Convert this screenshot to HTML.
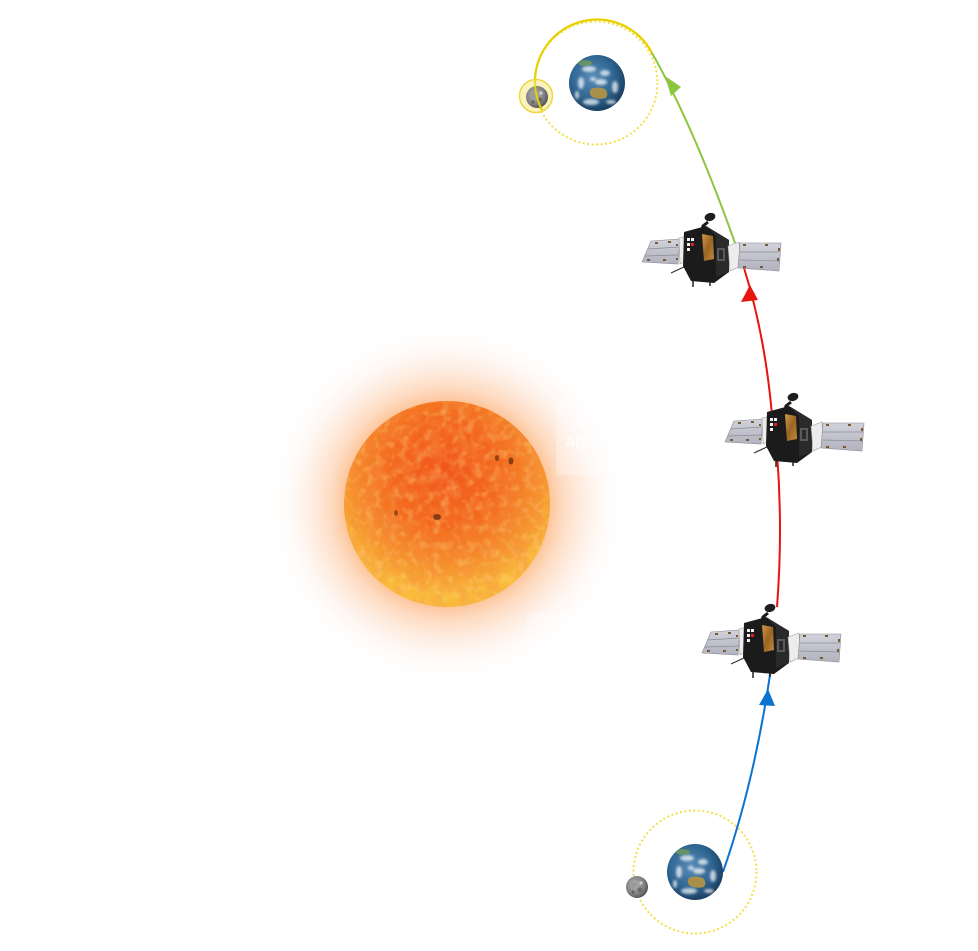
<!DOCTYPE html>
<html>
<head>
<meta charset="utf-8">
<style>
  html,body{margin:0;padding:0;background:#ffffff;}
  body{width:978px;height:951px;overflow:hidden;position:relative;font-family:"Liberation Sans",sans-serif;}
  svg{position:absolute;left:0;top:0;}
  .box{position:absolute;background:rgba(255,255,255,0.3);border-radius:4px;color:#ffffff;font-weight:bold;font-size:16px;line-height:20px;text-align:left;}
</style>
</head>
<body>
<svg width="978" height="951" viewBox="0 0 978 951" xmlns="http://www.w3.org/2000/svg">
  <defs>
    <radialGradient id="glow" cx="447" cy="504" r="180" gradientUnits="userSpaceOnUse">
      <stop offset="0.55" stop-color="#fcbf90" stop-opacity="1"/>
      <stop offset="0.64" stop-color="#fdd3b3" stop-opacity="0.85"/>
      <stop offset="0.78" stop-color="#fee7d8" stop-opacity="0.6"/>
      <stop offset="1" stop-color="#ffffff" stop-opacity="0"/>
    </radialGradient>
    <radialGradient id="sun" cx="445" cy="470" r="125" gradientUnits="userSpaceOnUse">
      <stop offset="0" stop-color="#f2561c"/>
      <stop offset="0.45" stop-color="#f36a1e"/>
      <stop offset="0.7" stop-color="#f5872a"/>
      <stop offset="0.88" stop-color="#f7a232"/>
      <stop offset="1" stop-color="#f9bb3c"/>
    </radialGradient>
    <filter id="tex" x="0" y="0" width="100%" height="100%">
      <feTurbulence type="fractalNoise" baseFrequency="0.07" numOctaves="3" seed="4"/>
      <feColorMatrix type="matrix" values="0 0 0 0 0.92  0 0 0 0 0.28  0 0 0 0 0.06  1.8 0 0 0 -0.7"/>
      <feComposite in2="SourceGraphic" operator="in"/>
    </filter>
    <filter id="tex2" x="0" y="0" width="100%" height="100%">
      <feTurbulence type="fractalNoise" baseFrequency="0.12" numOctaves="2" seed="9"/>
      <feColorMatrix type="matrix" values="0 0 0 0 1  0 0 0 0 0.78  0 0 0 0 0.3  1.8 0 0 0 -0.85"/>
      <feComposite in2="SourceGraphic" operator="in"/>
    </filter>
    <radialGradient id="earth" cx="0.42" cy="0.4" r="0.65">
      <stop offset="0" stop-color="#5a8cb8"/>
      <stop offset="0.6" stop-color="#2f6591"/>
      <stop offset="1" stop-color="#17395a"/>
    </radialGradient>
    <radialGradient id="moon" cx="0.4" cy="0.4" r="0.65">
      <stop offset="0" stop-color="#b4b4b4"/>
      <stop offset="0.7" stop-color="#7c7c7c"/>
      <stop offset="1" stop-color="#4a4a4a"/>
    </radialGradient>
    <linearGradient id="gold" x1="0" y1="0" x2="1" y2="1">
      <stop offset="0" stop-color="#d39a4a"/>
      <stop offset="0.5" stop-color="#9a6424"/>
      <stop offset="1" stop-color="#c48a3e"/>
    </linearGradient>
    <linearGradient id="panel" x1="0" y1="0" x2="0" y2="1">
      <stop offset="0" stop-color="#d2d2dc"/>
      <stop offset="1" stop-color="#b2b2c0"/>
    </linearGradient>
    <filter id="soft"><feGaussianBlur stdDeviation="1.2"/></filter>

    <g id="earthG">
      <circle cx="0" cy="0" r="28" fill="url(#earth)"/>
      <g filter="url(#soft)" fill="#ffffff" opacity="0.7">
        <ellipse cx="-8" cy="-14" rx="7" ry="3"/>
        <ellipse cx="8" cy="-10" rx="5" ry="3"/>
        <ellipse cx="-16" cy="0" rx="3" ry="6"/>
        <ellipse cx="4" cy="-1" rx="6" ry="3"/>
        <ellipse cx="18" cy="4" rx="3" ry="6"/>
        <ellipse cx="-6" cy="19" rx="8" ry="3"/>
        <ellipse cx="14" cy="19" rx="5" ry="2"/>
        <ellipse cx="-20" cy="12" rx="2" ry="4"/>
        <ellipse cx="-4" cy="-4" rx="3" ry="2"/>
      </g>
      <ellipse cx="-12" cy="-20" rx="7" ry="3" fill="#6f9a5a" opacity="0.8"/>
      <path d="M-6,6 Q0,3 8,6 Q12,10 9,15 Q2,17 -5,14 Q-9,10 -6,6Z" fill="#a8904a"/>
    </g>
    <g id="moonG">
      <circle cx="0" cy="0" r="11" fill="url(#moon)"/>
      <circle cx="-3" cy="-2" r="3" fill="#9a9a9a"/>
      <circle cx="3" cy="3" r="2.5" fill="#6a6a6a"/>
      <circle cx="4" cy="-4" r="1.8" fill="#c8c8c8"/>
      <circle cx="-4" cy="5" r="1.5" fill="#5f5f5f"/>
    </g>

    <g id="sat">
      <line x1="671" y1="273" x2="686" y2="266" stroke="#333" stroke-width="1.2"/>
      <polygon points="651,241 680,239 678,264 642,262" fill="url(#panel)" stroke="#8a8a95" stroke-width="0.6"/>
      <line x1="648" y1="249" x2="679" y2="247" stroke="#8d8d9a" stroke-width="0.7"/>
      <line x1="645" y1="256" x2="679" y2="255" stroke="#8d8d9a" stroke-width="0.7"/>
      <g fill="#7a5a2a">
        <rect x="655" y="242" width="3" height="2"/><rect x="668" y="241" width="3" height="2"/>
        <rect x="647" y="259" width="3" height="2"/><rect x="663" y="259" width="3" height="2"/>
        <rect x="676" y="244" width="2" height="2"/><rect x="676" y="258" width="2" height="2"/>
      </g>
      <polygon points="679,238 687,236 689,259 680,264" fill="#ececec" stroke="#9a9a9a" stroke-width="0.6"/>
      <polygon points="684,232 706,226 729,240 729,272 714,283 691,281 683,266" fill="#1b1b1b"/>
      <polygon points="706,226 729,240 729,272 716,277 716,236" fill="#2a2a2a"/>
      <rect x="687" y="238" width="3" height="3" fill="#f2f2f2"/>
      <rect x="691" y="238" width="3" height="3" fill="#f2f2f2"/>
      <rect x="687" y="243" width="3" height="3" fill="#f2f2f2"/>
      <rect x="691" y="243" width="3" height="3" fill="#e02020"/>
      <rect x="687" y="248" width="3" height="3" fill="#f2f2f2"/>
      <polygon points="702,234 713,236 714,259 704,261" fill="url(#gold)"/>
      <rect x="717" y="248" width="8" height="13" fill="#5a5a5a"/>
      <rect x="719" y="250" width="4" height="9" fill="#2a2a2a"/>
      <line x1="693" y1="281" x2="693" y2="287" stroke="#222" stroke-width="1.5"/>
      <line x1="710" y1="282" x2="710" y2="286" stroke="#222" stroke-width="1.5"/>
      <path d="M701,234 L703,226 L708,222" stroke="#1b1b1b" stroke-width="3" fill="none"/>
      <ellipse cx="710" cy="217" rx="5.5" ry="4" fill="#1e1e1e" transform="rotate(-15 710 217)"/>
      <polygon points="728,246 739,242 741,266 730,271" fill="#ececec" stroke="#9a9a9a" stroke-width="0.6"/>
      <polygon points="740,243 781,243 779,271 738,268" fill="url(#panel)" stroke="#8a8a95" stroke-width="0.6"/>
      <line x1="740" y1="252" x2="780" y2="252" stroke="#8d8d9a" stroke-width="0.7"/>
      <line x1="739" y1="260" x2="780" y2="261" stroke="#8d8d9a" stroke-width="0.7"/>
      <g fill="#7a5a2a">
        <rect x="743" y="244" width="3" height="2"/><rect x="765" y="244" width="3" height="2"/>
        <rect x="778" y="248" width="2" height="3"/><rect x="777" y="258" width="2" height="3"/>
        <rect x="743" y="266" width="3" height="2"/><rect x="760" y="266" width="3" height="2"/>
      </g>
    </g>
  </defs>

  <!-- Sun glow & body -->
  <circle cx="447" cy="504" r="180" fill="url(#glow)"/>
  <circle cx="447" cy="504" r="103" fill="url(#sun)"/>
  <circle cx="447" cy="504" r="103" fill="#000" filter="url(#tex)" opacity="0.6"/>
  <circle cx="447" cy="504" r="103" fill="#000" filter="url(#tex2)" opacity="0.5"/>
  <ellipse cx="437" cy="517" rx="4" ry="3" fill="#6a3010" opacity="0.8"/>
  <ellipse cx="511" cy="461" rx="2.5" ry="3.5" fill="#6a3010" opacity="0.8"/>
  <ellipse cx="497" cy="458" rx="2" ry="3" fill="#6a3010" opacity="0.7"/>
  <ellipse cx="396" cy="513" rx="2" ry="3" fill="#6a3010" opacity="0.6"/>

  <!-- Top Earth orbit -->
  <circle cx="596" cy="83" r="61.5" fill="none" stroke="#f3df4a" stroke-width="2" stroke-dasharray="2 2.5"/>
  <path d="M542,110 A61.5,61.5 0 1 1 652,53" fill="none" stroke="#e8cf00" stroke-width="2.2"/>
  <!-- Bottom Earth orbit -->
  <circle cx="695" cy="872" r="61.5" fill="none" stroke="#f3df4a" stroke-width="2" stroke-dasharray="2 2.5"/>

  <!-- Green path -->
  <path d="M652,53 Q693,125 735,243" fill="none" stroke="#8cc63f" stroke-width="2"/>
  <polygon points="665,76 681,87 671,96" fill="#8cc63f"/>

  <!-- Red paths -->
  <path d="M744,268 Q765,335 772,415" fill="none" stroke="#e8140e" stroke-width="2"/>
  <polygon points="750,285 741,302 758,300" fill="#e8140e"/>
  <path d="M777,453 Q783,530 777,607" fill="none" stroke="#e8140e" stroke-width="2"/>

  <!-- Blue path -->
  <path d="M723,872 Q755,780 771,668" fill="none" stroke="#0a74d0" stroke-width="2"/>
  <polygon points="768,689 759,705 775,706" fill="#0a74d0"/>

  <!-- Earths & moons -->
  <use href="#earthG" x="597" y="83"/>
  <use href="#earthG" x="695" y="872"/>
  <circle cx="536" cy="96" r="16.5" fill="#f6ea8a" fill-opacity="0.55" stroke="#efd63a" stroke-width="1.5"/>
  <use href="#moonG" x="537" y="97"/>
  <path d="M535,86 A61.5,61.5 0 0 0 542,110" fill="none" stroke="#e8cf00" stroke-width="2"/>
  <use href="#moonG" x="637" y="887"/>

  <!-- Satellites -->
  <use href="#sat"/>
  <use href="#sat" transform="translate(83,180)"/>
  <use href="#sat" transform="translate(60,391)"/>
</svg>

<div class="box" style="left:556px;top:400px;width:120px;height:75px;">
  <div style="padding:12px 0 0 18px;opacity:0.75;">Main<br><span style="margin-left:-8px;">approach</span></div>
</div>
<div class="box" style="left:526px;top:611px;width:120px;height:60px;background:rgba(255,255,255,0.25);"></div>
</body>
</html>
